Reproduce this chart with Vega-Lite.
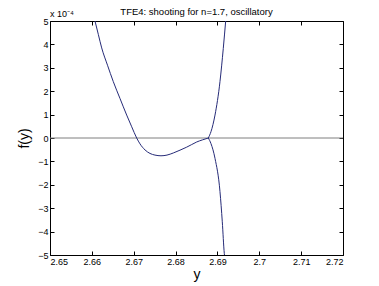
{
  "$schema": "https://vega.github.io/schema/vega-lite/v6.json",
  "autosize": "none",
  "width": 293,
  "height": 234,
  "padding": {"left": 50, "top": 21, "right": 36, "bottom": 31},
  "background": "white",
  "title": {"text": "TFE4: shooting for n=1.7, oscillatory", "fontSize": 9.5, "fontWeight": "normal", "font": "Liberation Sans", "color": "black", "offset": -6},
  "config": {
    "view": {"stroke": "black", "strokeWidth": 1},
    "axis": {"grid": false, "domain": false, "tickColor": "black", "labelColor": "black", "labelFont": "Liberation Sans", "labelFontSize": 9, "titleFont": "Liberation Sans", "titleFontWeight": "normal", "titleColor": "black", "tickSize": -4, "labelPadding": 6}
  },
  "datasets": {
    "curves": [
      {"x": 2.66075, "f": 5.0, "s": "L"},
      {"x": 2.66154, "f": 4.43, "s": "L"},
      {"x": 2.66235, "f": 3.85, "s": "L"},
      {"x": 2.66374, "f": 3.11, "s": "L"},
      {"x": 2.66512, "f": 2.41, "s": "L"},
      {"x": 2.66672, "f": 1.69, "s": "L"},
      {"x": 2.66832, "f": 0.98, "s": "L"},
      {"x": 2.66952, "f": 0.48, "s": "L"},
      {"x": 2.67071, "f": 0.0, "s": "L"},
      {"x": 2.6715, "f": -0.25, "s": "L"},
      {"x": 2.6727, "f": -0.51, "s": "L"},
      {"x": 2.67389, "f": -0.66, "s": "L"},
      {"x": 2.67508, "f": -0.73, "s": "L"},
      {"x": 2.67652, "f": -0.76, "s": "L"},
      {"x": 2.67795, "f": -0.73, "s": "L"},
      {"x": 2.67946, "f": -0.64, "s": "L"},
      {"x": 2.68106, "f": -0.52, "s": "L"},
      {"x": 2.68266, "f": -0.39, "s": "L"},
      {"x": 2.68385, "f": -0.28, "s": "L"},
      {"x": 2.68505, "f": -0.17, "s": "L"},
      {"x": 2.68643, "f": -0.08, "s": "L"},
      {"x": 2.68782, "f": 0.0, "s": "L"},
      {"x": 2.68782, "f": 0.0, "s": "U"},
      {"x": 2.68846, "f": 0.27, "s": "U"},
      {"x": 2.68942, "f": 0.98, "s": "U"},
      {"x": 2.69061, "f": 2.41, "s": "U"},
      {"x": 2.6914, "f": 3.83, "s": "U"},
      {"x": 2.69197, "f": 5.0, "s": "U"},
      {"x": 2.68782, "f": 0.0, "s": "D"},
      {"x": 2.68846, "f": -0.24, "s": "D"},
      {"x": 2.68942, "f": -0.87, "s": "D"},
      {"x": 2.69061, "f": -2.29, "s": "D"},
      {"x": 2.69116, "f": -3.58, "s": "D"},
      {"x": 2.69164, "f": -4.93, "s": "D"},
      {"x": 2.69168, "f": -5.0, "s": "D"}
    ],
    "zero": [{"z": 0}],
    "exponent": [{"x": 2.65, "f": 5.0, "label": "x 10⁻⁴"}]
  },
  "layer": [
    {
      "data": {"name": "zero"},
      "mark": {"type": "rule", "color": "#7f7f7f", "strokeWidth": 1},
      "encoding": {"y": {"field": "z", "type": "quantitative", "scale": {"domain": [-5, 5], "nice": false, "zero": false}, "axis": null}}
    },
    {
      "data": {"name": "curves"},
      "mark": {"type": "line", "strokeWidth": 1, "clip": true, "interpolate": "monotone"},
      "encoding": {
        "x": {"field": "x", "type": "quantitative", "scale": {"domain": [2.65, 2.72], "nice": false, "zero": false},
              "axis": {"orient": "bottom", "values": [2.65, 2.66, 2.67, 2.68, 2.69, 2.7, 2.71, 2.72], "format": ".3~g", "title": "y", "titleFontSize": 14, "titlePadding": 1}},
        "y": {"field": "f", "type": "quantitative", "scale": {"domain": [-5, 5], "nice": false, "zero": false},
              "axis": {"orient": "left", "values": [-5, -4, -3, -2, -1, 0, 1, 2, 3, 4, 5], "format": "d", "title": "f(y)", "titleFontSize": 14, "titlePadding": 6}},
        "detail": {"field": "s"},
        "color": {"field": "s", "type": "nominal", "scale": {"domain": ["L", "U", "D"], "range": ["#262b78", "#262b78", "#262b78"]}, "legend": null}
      }
    },
    {
      "data": {"name": "curves"},
      "mark": {"type": "point", "opacity": 0},
      "encoding": {
        "x": {"field": "x", "type": "quantitative", "scale": {"domain": [2.65, 2.72], "nice": false, "zero": false},
              "axis": {"orient": "top", "values": [2.65, 2.66, 2.67, 2.68, 2.69, 2.7, 2.71, 2.72], "labels": false, "title": null}},
        "y": {"field": "f", "type": "quantitative", "scale": {"domain": [-5, 5], "nice": false, "zero": false},
              "axis": {"orient": "right", "values": [-5, -4, -3, -2, -1, 0, 1, 2, 3, 4, 5], "labels": false, "title": null}}
      }
    },
    {
      "data": {"name": "exponent"},
      "mark": {"type": "text", "align": "left", "baseline": "bottom", "dy": -2, "fontSize": 9, "font": "Liberation Sans", "color": "black"},
      "encoding": {
        "x": {"field": "x", "type": "quantitative", "axis": null},
        "y": {"field": "f", "type": "quantitative", "axis": null},
        "text": {"field": "label"}
      }
    }
  ],
  "resolve": {"axis": {"x": "independent", "y": "independent"}}
}
